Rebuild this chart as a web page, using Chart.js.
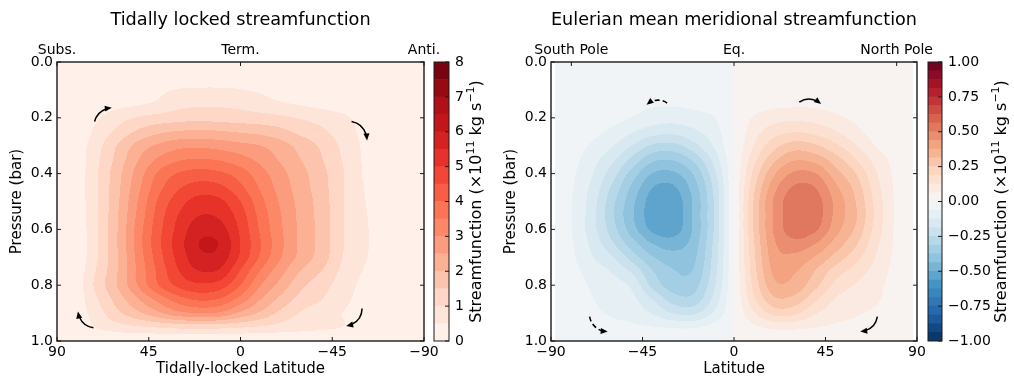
<!DOCTYPE html>
<html lang="en">
<head>
<meta charset="UTF-8">
<title>Streamfunctions</title>
<script src="https://cdn.jsdelivr.net/npm/chart.js"></script>
<style>
  body { margin: 0; background: #fff; }
  #wrap { position: relative; width: 1014px; height: 380px; }
  #wrap canvas { position: absolute; left: 0; top: 0; }
</style>
</head>
<body>
<div id="wrap">
  <canvas id="tlChart" width="1014" height="380"></canvas>
  <canvas id="tlBar" width="1014" height="380"></canvas>
  <canvas id="emChart" width="1014" height="380"></canvas>
  <canvas id="emBar" width="1014" height="380"></canvas>
</div>

<script>
// pressure levels (bar) shared by both grids
const pres = [0, 0.05, 0.1, 0.15, 0.2, 0.25, 0.3, 0.35, 0.4, 0.45, 0.5, 0.55, 0.6, 0.65, 0.7, 0.75, 0.8, 0.85, 0.9, 0.95, 1.0];
const presTicks = [0, 0.2, 0.4, 0.6, 0.8, 1.0];

// tidally locked streamfunction, 1e11 kg/s (rows = pres, cols = tlLat)
const tlLat = [90, 80, 70, 60, 50, 40, 30, 20, 10, 0, -10, -20, -30, -40, -50, -60, -70, -80, -90];
const tlPsi = [
  [0, 0, 0, 0, 0, 0, 0, 0, 0, 0, 0, 0, 0, 0, 0, 0, 0, 0, 0],
  [0, 0, 0.01, 0.03, 0.06, 0.1, 0.15, 0.2, 0.2, 0.18, 0.12, 0.08, 0.06, 0.04, 0.03, 0.02, 0.01, 0, 0],
  [0.01, 0.02, 0.06, 0.12, 0.2, 0.4, 0.53, 0.56, 0.56, 0.52, 0.42, 0.25, 0.18, 0.12, 0.08, 0.05, 0.03, 0.01, 0.01],
  [0.01, 0.03, 0.2, 0.35, 0.45, 0.6, 0.85, 0.92, 0.92, 0.85, 0.72, 0.56, 0.45, 0.35, 0.25, 0.15, 0.06, 0.02, 0.02],
  [0.02, 0.1, 0.45, 0.8, 1.05, 1.2, 1.3, 1.35, 1.3, 1.25, 1.2, 1.1, 0.95, 0.8, 0.6, 0.35, 0.15, 0.05, 0.03],
  [0.03, 0.18, 0.65, 1.15, 1.6, 1.9, 2.05, 2.1, 2.05, 1.95, 1.85, 1.65, 1.35, 1.1, 0.75, 0.4, 0.17, 0.07, 0.04],
  [0.05, 0.25, 0.85, 1.55, 2.2, 2.6, 2.85, 2.9, 2.8, 2.65, 2.5, 2.2, 1.8, 1.4, 0.9, 0.45, 0.2, 0.1, 0.05],
  [0.05, 0.25, 0.93, 1.7, 2.5, 3.1, 3.45, 3.55, 3.45, 3.2, 2.85, 2.42, 1.98, 1.52, 0.98, 0.47, 0.2, 0.1, 0.05],
  [0.05, 0.25, 1.0, 1.85, 2.75, 3.6, 4.05, 4.2, 4.1, 3.75, 3.2, 2.65, 2.15, 1.65, 1.05, 0.48, 0.2, 0.1, 0.05],
  [0.05, 0.25, 1.0, 1.9, 2.9, 3.85, 4.45, 4.72, 4.62, 4.12, 3.42, 2.78, 2.22, 1.7, 1.05, 0.52, 0.22, 0.11, 0.06],
  [0.05, 0.25, 1.0, 1.95, 3.05, 4.1, 4.8, 5.2, 5.1, 4.5, 3.65, 2.9, 2.3, 1.75, 1.05, 0.55, 0.25, 0.12, 0.07],
  [0.05, 0.22, 1.0, 2.0, 3.15, 4.25, 5.05, 5.5, 5.4, 4.75, 3.8, 3.0, 2.33, 1.78, 1.05, 0.58, 0.28, 0.14, 0.08],
  [0.05, 0.2, 1.0, 2.03, 3.25, 4.35, 5.2, 5.8, 5.7, 4.9, 3.9, 3.05, 2.35, 1.8, 1.05, 0.6, 0.3, 0.15, 0.1],
  [0.05, 0.2, 1.0, 2.05, 3.3, 4.4, 5.3, 6.02, 5.95, 5.0, 4.0, 3.1, 2.35, 1.8, 1.05, 0.6, 0.3, 0.15, 0.1],
  [0.05, 0.2, 1.0, 2.0, 3.2, 4.3, 5.2, 5.85, 5.8, 4.9, 3.9, 3.0, 2.3, 1.75, 1.0, 0.58, 0.3, 0.15, 0.1],
  [0.05, 0.25, 1.1, 2.03, 3.13, 4.15, 5.0, 5.5, 5.4, 4.45, 3.45, 2.65, 1.95, 1.48, 0.88, 0.49, 0.25, 0.13, 0.08],
  [0.05, 0.3, 1.2, 2.05, 3.05, 4.0, 4.65, 4.9, 4.75, 4.0, 3.0, 2.3, 1.6, 1.2, 0.75, 0.4, 0.2, 0.1, 0.05],
  [0.04, 0.28, 1.0, 1.75, 2.5, 3.2, 3.8, 4.1, 3.95, 3.3, 2.5, 1.85, 1.3, 1.0, 0.65, 0.33, 0.16, 0.08, 0.04],
  [0.03, 0.25, 0.8, 1.4, 1.9, 2.4, 2.85, 3.0, 2.9, 2.4, 1.9, 1.35, 0.95, 0.75, 0.5, 0.25, 0.12, 0.06, 0.03],
  [0.02, 0.15, 0.55, 0.8, 0.95, 1.05, 1.15, 1.2, 1.15, 1.05, 0.95, 0.8, 0.7, 0.6, 0.5, 0.25, 0.1, 0.05, 0.02],
  [0, 0, 0.02, 0.03, 0.04, 0.05, 0.05, 0.05, 0.05, 0.05, 0.05, 0.04, 0.03, 0.03, 0.02, 0.02, 0, 0, 0]
];
const tlLevels = [0, 0.5, 1, 1.5, 2, 2.5, 3, 3.5, 4, 4.5, 5, 5.5, 6, 6.5, 7, 7.5, 8];
const tlTicks = [90, 45, 0, -45, -90];
const tlTopTicks = [90, 0, -90];
const tlTopNames = ['Subs.', 'Term.', 'Anti.'];
const tlBarTicks = [0, 1, 2, 3, 4, 5, 6, 7, 8];

// Eulerian mean meridional streamfunction, 1e11 kg/s (rows = pres, cols = emLat)
const emLat = [-88, -80, -70, -60, -50, -40, -30, -20, -10, 0, 10, 20, 30, 40, 50, 60, 70, 80, 88];
const emPsi = [
  [-0.005, -0.005, -0.005, -0.005, -0.005, -0.005, -0.005, -0.005, -0.005, 0, 0.005, 0.005, 0.005, 0.005, 0.005, 0.005, 0.005, 0.005, 0.005],
  [-0.005, -0.006, -0.008, -0.01, -0.012, -0.014, -0.015, -0.014, -0.01, 0, 0.01, 0.014, 0.015, 0.014, 0.012, 0.01, 0.008, 0.006, 0.005],
  [-0.008, -0.01, -0.015, -0.02, -0.025, -0.03, -0.03, -0.028, -0.02, 0, 0.01, 0.02, 0.025, 0.025, 0.02, 0.015, 0.01, 0.008, 0.005],
  [-0.01, -0.015, -0.025, -0.035, -0.045, -0.055, -0.055, -0.05, -0.035, 0, 0.03, 0.045, 0.05, 0.05, 0.04, 0.03, 0.02, 0.01, 0.005],
  [-0.01, -0.015, -0.03, -0.045, -0.065, -0.09, -0.1, -0.085, -0.065, 0, 0.07, 0.1, 0.11, 0.1, 0.075, 0.05, 0.03, 0.015, 0.01],
  [-0.01, -0.02, -0.045, -0.075, -0.12, -0.16, -0.17, -0.14, -0.09, 0, 0.1, 0.16, 0.185, 0.17, 0.13, 0.08, 0.035, 0.015, 0.01],
  [-0.01, -0.03, -0.07, -0.12, -0.19, -0.26, -0.27, -0.21, -0.12, 0, 0.13, 0.23, 0.28, 0.26, 0.2, 0.13, 0.06, 0.025, 0.01],
  [-0.015, -0.04, -0.1, -0.17, -0.27, -0.36, -0.37, -0.3, -0.17, 0, 0.17, 0.3, 0.37, 0.35, 0.28, 0.19, 0.1, 0.04, 0.015],
  [-0.02, -0.05, -0.12, -0.22, -0.34, -0.44, -0.45, -0.37, -0.21, 0, 0.21, 0.37, 0.45, 0.44, 0.34, 0.25, 0.13, 0.045, 0.02],
  [-0.02, -0.055, -0.14, -0.26, -0.39, -0.5, -0.51, -0.41, -0.24, 0, 0.24, 0.42, 0.51, 0.5, 0.39, 0.29, 0.15, 0.05, 0.02],
  [-0.02, -0.06, -0.155, -0.29, -0.42, -0.53, -0.54, -0.43, -0.25, 0, 0.26, 0.45, 0.54, 0.53, 0.42, 0.31, 0.165, 0.05, 0.02],
  [-0.02, -0.06, -0.16, -0.3, -0.43, -0.535, -0.545, -0.43, -0.25, 0, 0.26, 0.45, 0.545, 0.535, 0.42, 0.32, 0.17, 0.05, 0.02],
  [-0.02, -0.06, -0.16, -0.28, -0.41, -0.515, -0.53, -0.43, -0.25, 0, 0.26, 0.45, 0.535, 0.51, 0.4, 0.3, 0.16, 0.05, 0.02],
  [-0.02, -0.055, -0.14, -0.24, -0.35, -0.44, -0.47, -0.41, -0.24, 0, 0.25, 0.43, 0.48, 0.44, 0.35, 0.26, 0.14, 0.05, 0.02],
  [-0.015, -0.05, -0.12, -0.18, -0.28, -0.37, -0.41, -0.39, -0.23, 0, 0.24, 0.41, 0.42, 0.37, 0.29, 0.21, 0.12, 0.045, 0.015],
  [-0.015, -0.04, -0.09, -0.13, -0.2, -0.31, -0.37, -0.37, -0.22, 0, 0.23, 0.39, 0.38, 0.31, 0.22, 0.16, 0.1, 0.04, 0.015],
  [-0.01, -0.03, -0.07, -0.1, -0.14, -0.27, -0.345, -0.34, -0.2, 0, 0.21, 0.36, 0.35, 0.27, 0.17, 0.12, 0.08, 0.035, 0.01],
  [-0.01, -0.03, -0.06, -0.08, -0.11, -0.19, -0.28, -0.29, -0.17, 0, 0.18, 0.3, 0.29, 0.2, 0.12, 0.09, 0.07, 0.03, 0.01],
  [-0.01, -0.025, -0.05, -0.07, -0.09, -0.13, -0.19, -0.2, -0.12, 0, 0.12, 0.21, 0.2, 0.13, 0.09, 0.07, 0.05, 0.02, 0.01],
  [-0.005, -0.01, -0.02, -0.04, -0.05, -0.06, -0.07, -0.07, -0.04, 0, 0.05, 0.08, 0.08, 0.065, 0.05, 0.04, 0.025, 0.01, 0.005],
  [-0.005, -0.005, -0.005, -0.005, -0.005, -0.005, -0.005, -0.005, -0.005, 0, 0.005, 0.005, 0.005, 0.005, 0.005, 0.005, 0.005, 0.005, 0.005]
];
const emLevels = [-1, -0.9375, -0.875, -0.8125, -0.75, -0.6875, -0.625, -0.5625, -0.5, -0.4375, -0.375, -0.3125, -0.25, -0.1875, -0.125, -0.0625,
  0, 0.0625, 0.125, 0.1875, 0.25, 0.3125, 0.375, 0.4375, 0.5, 0.5625, 0.625, 0.6875, 0.75, 0.8125, 0.875, 0.9375, 1];
const emTicks = [-90, -45, 0, 45, 90];
const emTopTicks = [-80, 0, 80];
const emTopNames = ['South Pole', 'Eq.', 'North Pole'];
const emBarTicks = [-1, -0.75, -0.5, -0.25, 0, 0.25, 0.5, 0.75, 1];

// circulation arrows: centre in data coords, radius px, angles in degrees
const tlArrows = [
  { lat: 63, p: 0.229, r: 18, from: 194, to: 263, dashed: false },
  { lat: -52.7, p: 0.28, r: 19, from: 281, to: 355, dashed: false },
  { lat: -50.8, p: 0.882, r: 18, from: 1, to: 77, dashed: false },
  { lat: 70.9, p: 0.889, r: 18, from: 98, to: 169, dashed: false }
];
const emArrows = [
  { lat: -37.4, p: 0.194, r: 16, from: 305, to: 232, dashed: true },
  { lat: 36.9, p: 0.194, r: 17, from: 235, to: 308, dashed: false },
  { lat: 62, p: 0.903, r: 17.5, from: 9, to: 83, dashed: false },
  { lat: -62.5, p: 0.903, r: 17.5, from: 171, to: 94, dashed: true }
];

const redsStops = ['#fff5f0', '#fee0d2', '#fcbba1', '#fc9272', '#fb6a4a', '#ef3b2c', '#cb181d', '#a50f15', '#67000d'];
const rdbuStops = ['#053061', '#2166ac', '#4393c3', '#92c5de', '#d1e5f0', '#f7f7f7', '#fddbc7', '#f4a582', '#d6604d', '#b2182b', '#67001f'];

const FONT = "'DejaVu Sans', sans-serif";
Chart.defaults.font.family = FONT;
Chart.defaults.font.size = 14;
Chart.defaults.color = '#000';

function minus(v, d) {
  const s = d == null ? String(Math.abs(v)) : Math.abs(v).toFixed(d);
  return v < 0 ? '\u2212' + s : s;
}

function hex(h) { return [1, 3, 5].map(i => parseInt(h.substr(i, 2), 16)); }

function cmap(stops, t) {
  t = Math.max(0, Math.min(1, t));
  const s = t * (stops.length - 1);
  const i = Math.min(stops.length - 2, Math.floor(s)), f = s - i;
  const a = hex(stops[i]), b = hex(stops[i + 1]);
  return a.map((v, k) => Math.round(v + (b[k] - v) * f));
}

// colour of each filled band = colormap at the band middle
function bandColors(levels, stops) {
  const lo = levels[0], hi = levels[levels.length - 1];
  return levels.slice(0, -1).map((l, i) => cmap(stops, ((l + levels[i + 1]) / 2 - lo) / (hi - lo)));
}

function locate(coords, v) {
  for (let i = 0; i < coords.length - 1; i++) {
    const a = coords[i], b = coords[i + 1];
    if ((v - a) * (v - b) <= 0) return [i, (v - a) / (b - a)];
  }
  return null;
}

function cr(a, b, c, d, t) {
  return b + 0.5 * t * (c - a + t * (2 * a - 5 * b + 4 * c - d + t * (3 * (b - c) + d - a)));
}

function interp2(grid, r, c) {
  const nr = grid.length, nc = grid[0].length;
  const i = c[0], ti = c[1];
  const rowVal = jj => {
    const row = grid[Math.max(0, Math.min(nr - 1, jj))];
    const g = k => row[Math.max(0, Math.min(nc - 1, k))];
    return cr(g(i - 1), g(i), g(i + 1), g(i + 2), ti);
  };
  const j = r[0];
  return cr(rowVal(j - 1), rowVal(j), rowVal(j + 1), rowVal(j + 2), r[1]);
}

function drawArrows(chart, arrows) {
  const { ctx, scales } = chart;
  ctx.save();
  ctx.strokeStyle = '#000';
  ctx.fillStyle = '#000';
  ctx.lineWidth = 1.5;
  arrows.forEach(ar => {
    const cx = scales.x.getPixelForValue(ar.lat), cy = scales.y.getPixelForValue(ar.p);
    const a0 = ar.from * Math.PI / 180, a1 = ar.to * Math.PI / 180;
    const dir = a1 < a0 ? -1 : 1;
    const stop = a1 - dir * 4 / ar.r;
    ctx.setLineDash(ar.dashed ? [5, 3] : []);
    ctx.beginPath();
    ctx.arc(cx, cy, ar.r, a0, stop, dir < 0);
    ctx.stroke();
    const ex = cx + ar.r * Math.cos(a1), ey = cy + ar.r * Math.sin(a1);
    const tx = -Math.sin(a1) * dir, ty = Math.cos(a1) * dir;
    ctx.setLineDash([]);
    ctx.beginPath();
    ctx.moveTo(ex + tx * 2, ey + ty * 2);
    ctx.lineTo(ex - tx * 5 - ty * 3, ey - ty * 5 + tx * 3);
    ctx.lineTo(ex - tx * 5 + ty * 3, ey - ty * 5 - tx * 3);
    ctx.closePath();
    ctx.fill();
  });
  ctx.restore();
}

function fieldPlugin(f) {
  const colors = bandColors(f.levels, f.stops);
  return {
    id: 'field',
    beforeDatasetsDraw(chart) {
      const { ctx, chartArea: a, scales: { x, y } } = chart;
      const w = Math.round(a.right - a.left), h = Math.round(a.bottom - a.top);
      const img = ctx.createImageData(w, h);
      const cols = [], rows = [];
      for (let i = 0; i < w; i++) cols.push(locate(f.lat, x.getValueForPixel(a.left + i + 0.5)));
      for (let j = 0; j < h; j++) rows.push(locate(f.pres, y.getValueForPixel(a.top + j + 0.5)));
      for (let j = 0; j < h; j++) {
        if (!rows[j]) continue;
        for (let i = 0; i < w; i++) {
          if (!cols[i]) continue;
          const v = interp2(f.psi, rows[j], cols[i]);
          let k = colors.length - 1;
          while (k > 0 && v < f.levels[k]) k--;
          const c = colors[k], o = (j * w + i) * 4;
          img.data[o] = c[0]; img.data[o + 1] = c[1]; img.data[o + 2] = c[2]; img.data[o + 3] = 255;
        }
      }
      ctx.putImageData(img, a.left, a.top);
    },
    afterDraw(chart) {
      const { ctx, chartArea: a, scales } = chart;
      ctx.save();
      ctx.strokeStyle = '#1a1a1a';
      ctx.lineWidth = 1;
      ctx.beginPath();
      f.ticks.forEach(v => {
        const px = scales.x.getPixelForValue(v);
        ctx.moveTo(px, a.bottom); ctx.lineTo(px, a.bottom - 4);
      });
      f.topTicks.forEach(v => {
        const px = scales.x2.getPixelForValue(v);
        ctx.moveTo(px, a.top); ctx.lineTo(px, a.top + 4);
      });
      presTicks.forEach(v => {
        const py = scales.y.getPixelForValue(v);
        ctx.moveTo(a.left, py); ctx.lineTo(a.left + 4, py);
        ctx.moveTo(a.right, py); ctx.lineTo(a.right - 4, py);
      });
      ctx.stroke();
      ctx.lineWidth = 1.4;
      ctx.strokeRect(a.left, a.top, a.right - a.left, a.bottom - a.top);
      ctx.restore();
      drawArrows(chart, f.arrows);
    }
  };
}

function mainChart(id, f) {
  const xBase = { type: 'linear', min: -90, max: 90, reverse: f.reverse, grid: { display: false, drawTicks: false }, border: { display: false } };
  return new Chart(document.getElementById(id), {
    type: 'scatter',
    data: { datasets: [] },
    options: {
      responsive: false, animation: false, events: [],
      layout: { padding: f.padding },
      plugins: { legend: { display: false }, tooltip: { enabled: false } },
      scales: {
        x: Object.assign({}, xBase, {
          position: 'bottom',
          afterBuildTicks: s => { s.ticks = f.ticks.map(v => ({ value: v })); },
          ticks: { padding: 3, maxRotation: 0, autoSkip: false, callback: v => minus(v) },
          title: { display: true, text: f.xTitle, font: { size: 15 }, padding: { top: 0, bottom: 2 } },
          afterFit: s => { s.height = 39; }
        }),
        x2: Object.assign({}, xBase, {
          position: 'top',
          afterBuildTicks: s => { s.ticks = f.topTicks.map(v => ({ value: v })); },
          ticks: { padding: 3, maxRotation: 0, autoSkip: false, callback: v => f.topNames[f.topTicks.indexOf(v)] },
          title: { display: true, text: f.title, font: { size: 17.7 }, padding: { top: 10, bottom: 0 } },
          afterFit: s => { s.height = 62; }
        }),
        y: {
          type: 'linear', min: 0, max: 1, reverse: true,
          grid: { display: false, drawTicks: false }, border: { display: false },
          afterBuildTicks: s => { s.ticks = presTicks.map(v => ({ value: v })); },
          ticks: { padding: 4, autoSkip: false, callback: v => v.toFixed(1) },
          title: { display: true, text: 'Pressure (bar)', font: { size: 15 }, padding: { top: 8, bottom: 0 } },
          afterFit: s => { s.width = 57; }
        }
      }
    },
    plugins: [fieldPlugin(f)]
  });
}

// colorbar label with raised exponents, drawn bottom-to-top
function unitLabel(ctx, x, y) {
  const parts = [
    ['Streamfunction (\u00d710', 16, 0],
    ['11', 11, -6],
    [' kg s', 16, 0],
    ['\u22121', 11, -6],
    [')', 16, 0]
  ];
  ctx.save();
  ctx.translate(x, y);
  ctx.rotate(-Math.PI / 2);
  ctx.fillStyle = '#000';
  ctx.textBaseline = 'middle';
  ctx.textAlign = 'left';
  let total = 0;
  parts.forEach(p => { ctx.font = p[1] + 'px ' + FONT; total += ctx.measureText(p[0]).width; });
  let pos = -total / 2;
  parts.forEach(p => {
    ctx.font = p[1] + 'px ' + FONT;
    ctx.fillText(p[0], pos, p[2]);
    pos += ctx.measureText(p[0]).width;
  });
  ctx.restore();
}

function colorBar(id, b) {
  const colors = bandColors(b.levels, b.stops);
  return new Chart(document.getElementById(id), {
    type: 'bar',
    data: {
      labels: [''],
      datasets: colors.map((c, i) => ({
        data: [[b.levels[i], b.levels[i + 1]]],
        backgroundColor: 'rgb(' + c.join(',') + ')',
        borderWidth: 0, grouped: false, barPercentage: 1, categoryPercentage: 1
      }))
    },
    options: {
      responsive: false, animation: false, events: [],
      layout: { padding: b.padding },
      plugins: { legend: { display: false }, tooltip: { enabled: false } },
      scales: {
        x: { display: false },
        y: {
          position: 'right', min: b.levels[0], max: b.levels[b.levels.length - 1],
          grid: { display: false, drawTicks: false }, border: { display: false },
          afterBuildTicks: s => { s.ticks = b.ticks.map(v => ({ value: v })); },
          ticks: { padding: 6, autoSkip: false, callback: b.fmt },
          afterFit: s => { s.width = b.axisWidth; }
        }
      }
    },
    plugins: [{
      id: 'cbar',
      afterDraw(chart) {
        const { ctx, chartArea: a, scales: { y } } = chart;
        ctx.save();
        ctx.strokeStyle = '#1a1a1a';
        ctx.lineWidth = 1;
        ctx.beginPath();
        b.ticks.forEach(v => {
          const py = y.getPixelForValue(v);
          ctx.moveTo(a.right, py); ctx.lineTo(a.right - 4, py);
        });
        ctx.stroke();
        ctx.strokeRect(a.left, a.top, a.right - a.left, a.bottom - a.top);
        ctx.restore();
        unitLabel(ctx, y.right - 10, (a.top + a.bottom) / 2);
      }
    }]
  });
}

mainChart('tlChart', {
  lat: tlLat, pres: pres, psi: tlPsi, levels: tlLevels, stops: redsStops,
  reverse: true, ticks: tlTicks, topTicks: tlTopTicks, topNames: tlTopNames,
  title: 'Tidally locked streamfunction', xTitle: 'Tidally-locked Latitude',
  arrows: tlArrows, padding: { left: 0, right: 590, top: 0, bottom: 0 }
});
colorBar('tlBar', {
  levels: tlLevels, stops: redsStops, ticks: tlBarTicks, fmt: v => String(v),
  axisWidth: 38, padding: { left: 434, right: 527, top: 62, bottom: 39 }
});
mainChart('emChart', {
  lat: emLat, pres: pres, psi: emPsi, levels: emLevels, stops: rdbuStops,
  reverse: false, ticks: emTicks, topTicks: emTopTicks, topNames: emTopNames,
  title: 'Eulerian mean meridional streamfunction', xTitle: 'Latitude',
  arrows: emArrows, padding: { left: 494, right: 97, top: 0, bottom: 0 }
});
colorBar('emBar', {
  levels: emLevels, stops: rdbuStops, ticks: emBarTicks, fmt: v => minus(v, 2),
  axisWidth: 70, padding: { left: 928, right: 2, top: 62, bottom: 39 }
});
</script>
</body>
</html>
